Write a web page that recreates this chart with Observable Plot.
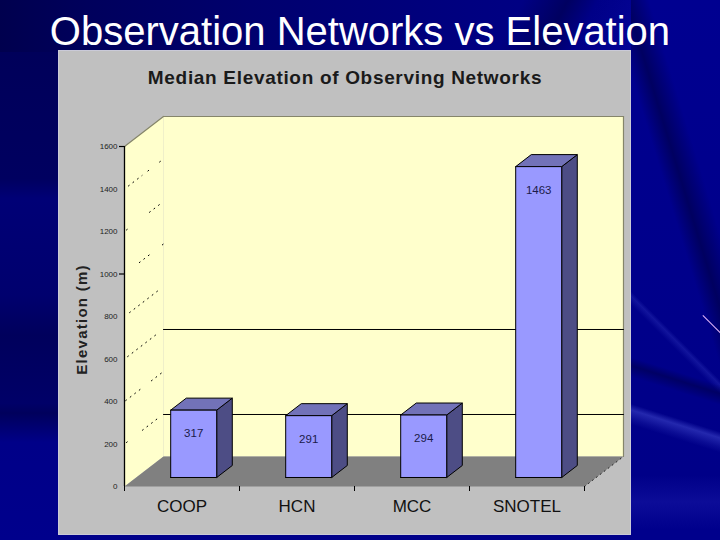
<!DOCTYPE html>
<html>
<head>
<meta charset="utf-8">
<script src="https://cdn.jsdelivr.net/npm/d3@7"></script>
<script src="https://cdn.jsdelivr.net/npm/@observablehq/plot@0.6"></script>
<style>
html,body{margin:0;padding:0;width:720px;height:540px;overflow:hidden;background:#00008a;}
#slide{position:relative;width:720px;height:540px;overflow:hidden;font-family:"Liberation Sans",Arial,sans-serif;background:#00008a;}
#bgTop{position:absolute;left:0;top:0;width:720px;height:52px;
 background:
  linear-gradient(118deg,transparent 70%,rgba(0,0,60,.5) 76%,transparent 80%,rgba(10,10,170,.4) 88%,rgba(0,0,70,.4) 94%,transparent 100%),
  linear-gradient(90deg,#00004e 0,#00005c 12%,#00006e 35%,#000080 65%,#00008e 100%);}
#bgLeft{position:absolute;left:0;top:52px;width:60px;height:488px;
 background:linear-gradient(180deg,#00005a 0,#000060 26%,#000076 30%,#00006e 50%,#00005c 58%,#000068 72%,#00005c 74%,#000088 80%,#00008c 100%);}
#bgRight{position:absolute;left:631px;top:0;width:89px;height:540px;
 background:
  linear-gradient(197.5deg,transparent 76%,rgba(85,95,225,.42) 77.1%,rgba(70,80,210,.16) 78.7%,transparent 79.7%),
  linear-gradient(197.5deg,transparent 67.8%,rgba(0,0,65,.5) 69.3%,transparent 71.3%),
  linear-gradient(225deg,transparent 60.4%,rgba(70,80,210,.25) 61.2%,transparent 62.6%),
  linear-gradient(253deg,transparent 28%,rgba(0,0,60,.55) 37%,transparent 44%),
  linear-gradient(180deg,#000090 0,#00008a 60%,#000088 88%,#0c0c98 93%,#00008c 98%);}
#panel{position:absolute;left:58px;top:50px;width:573px;height:485px;background:#c0c0c0;box-shadow:inset 0 0 0 1px #cacad8;}
#streak{position:absolute;left:699px;top:324px;width:26px;height:1px;background:#e0b4f8;transform:rotate(45deg);}
h1{position:absolute;left:0;top:9px;width:720px;margin:0;text-align:center;color:#fff;font-weight:400;font-size:40px;line-height:44px;}
#sub{position:absolute;left:58px;top:67px;width:574px;text-align:center;color:#1a1a1a;font-weight:700;font-size:19px;letter-spacing:.68px;line-height:22px;}
#chart{position:absolute;left:0;top:0;}
</style>
</head>
<body>
<div id="slide">
  <div id="bgTop"></div><div id="bgLeft"></div><div id="bgRight"></div>
  <div id="panel"></div>
  <div id="streak"></div>
  <h1>Observation Networks vs Elevation</h1>
  <div id="sub">Median Elevation of Observing Networks</div>
  <div id="chart"></div>
</div>
<script>
const categories = ["COOP", "HCN", "MCC", "SNOTEL"];
const medianElevation = [317, 291, 294, 1463];
const yTicks = [0, 200, 400, 600, 800, 1000, 1200, 1400, 1600];
const yTickMarks = [1000, 1600];
const backGridlines = [200, 600];
const wallDotValues = [1400, 1400, 1400, 1200, 1200, 1000, 1000, 800, 600, 400, 400, 200, 200];
const wallDotFrom   = [.10, .60, .90, .05, .64, .38, .97, .13, .08, .03, .69, .05, .46];
const wallDotTo     = [.45, .62, 1.0, .15, .97, .70, 1.0, .85, .80, .41, .97, .07, .85];
const yTitle = "Elevation (m)";

// Oblique projection, expressed in scale units: depth 0 = front, depth 1 = back wall.
const DX = 0.339, DY = 141.2, YMAX = 1600, N = categories.length;
const BAR_HALF = 0.2, D0 = 0.3, D1 = 0.7;
const P = (x, y, d = 0) => ({x: x + d * DX, y: y + d * DY});
const closed = pts => [...pts, pts[0]];
const face = (pts, fill, stroke = "none", strokeWidth = 1) =>
  Plot.line(closed(pts), {x: "x", y: "y", fill, stroke, strokeWidth, curve: "linear", strokeLinejoin: "miter"});
const seg = (a, b, opts) => Plot.line([a, b], {x: "x", y: "y", curve: "linear", ...opts});

const barFaces = categories.flatMap((c, i) => {
  const v = medianElevation[i], l = i + .5 - BAR_HALF, r = i + .5 + BAR_HALF;
  return [
    face([P(r,0,D0), P(r,0,D1), P(r,v,D1), P(r,v,D0)], "#4d4d85", "#000"),
    face([P(l,v,D0), P(r,v,D0), P(r,v,D1), P(l,v,D1)], "#7272b8", "#000"),
    face([P(l,0,D0), P(r,0,D0), P(r,v,D0), P(l,v,D0)], "#9999ff", "#000")
  ];
});

const plot = Plot.plot({
  width: 720, height: 540,
  marginLeft: 124, marginRight: 136, marginTop: 146, marginBottom: 54,
  x: {type: "linear", domain: [0, N]},
  y: {type: "linear", domain: [0, YMAX]},
  style: {background: "transparent", fontFamily: "Liberation Sans, Arial, sans-serif", color: "#111"},
  marks: [
    // walls and floor
    face([P(0,0,1), P(N,0,1), P(N,YMAX,1), P(0,YMAX,1)], "#ffffcc"),
    face([P(0,0,0), P(0,0,1), P(0,YMAX,1), P(0,YMAX,0)], "#ffffcc"),
    face([P(0,0,0), P(N,0,0), P(N,0,1), P(0,0,1)], "#808080"),
    seg(P(0,YMAX,0), P(0,YMAX,1), {stroke: "#85856a", strokeWidth: 1.2}),
    seg(P(0,YMAX,1), P(N,YMAX,1), {stroke: "#85856a", strokeWidth: 1.2}),
    seg(P(N,YMAX,1), P(N,0,1), {stroke: "#85856a", strokeWidth: 1.2}),
    seg(P(N,0,0), P(N,0,1), {stroke: "#222", strokeWidth: 1, strokeDasharray: "1 4"}),
    // gridlines
    ...backGridlines.map(v => seg(P(0,v,1), P(N,v,1), {stroke: "#000", strokeWidth: 1, dy: .5})),
    ...wallDotValues.map((v, i) => seg(P(0,v,wallDotFrom[i]), P(0,v,wallDotTo[i]),
        {stroke: "#000", strokeWidth: 1, strokeDasharray: "1 4.7"})),
    // axes
    Plot.ruleX([0], {y1: 0, y2: YMAX, stroke: "#000", strokeWidth: 1.3}),
    Plot.axisY({ticks: yTickMarks, tickSize: 5, tickFormat: () => "", label: null, stroke: "#000", strokeWidth: 1.2}),
    Plot.axisY({ticks: yTicks, tickSize: 0, tickPadding: 7, fontSize: 8, label: null, fill: "#222",
        tickFormat: d => String(d)}),
    Plot.axisX({ticks: d3.range(0, N + 1), tickFormat: () => "", tickSize: 5, label: null, stroke: "#000"}),
    Plot.axisX({ticks: categories.map((c, i) => i + .5), tickFormat: (d, i) => categories[i],
        tickSize: 0, tickPadding: 13, fontSize: 17, label: null, fill: "#111"}),
    Plot.text([yTitle], {frameAnchor: "left", textAnchor: "middle", dx: -42, dy: 3, rotate: -90,
        fontSize: 15, fontWeight: 700, fill: "#222"}),
    // bars
    ...barFaces,
    Plot.text(medianElevation, {
      x: (d, i) => P(i + .5, 0, D0).x,
      y: d => P(0, d, D0).y,
      text: d => String(d), dy: 23.5, fontSize: 11.5, fill: "#1b1b4a"
    })
  ]
});
d3.select(plot).selectAll("text").filter(function () { return this.textContent === yTitle; })
  .style("letter-spacing", "1.25px");
document.getElementById("chart").appendChild(plot);
</script>
</body>
</html>
